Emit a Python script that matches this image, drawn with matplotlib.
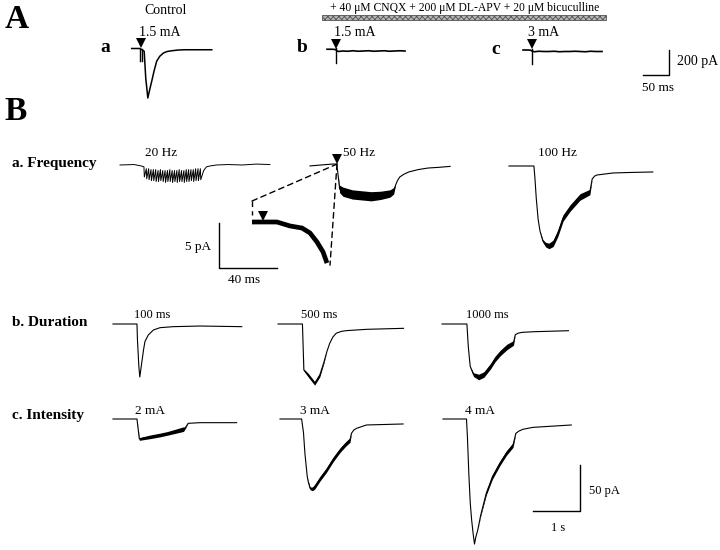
import matplotlib
matplotlib.use('Agg')
import matplotlib.pyplot as plt
from matplotlib.patches import Rectangle, ConnectionPatch
import numpy as np

plt.rcParams['font.family'] = ['Liberation Serif', 'DejaVu Serif']
plt.rcParams['hatch.linewidth'] = 0.6

W, H = 720, 550

# ---------------- Panel A data (time in ms, current in pA) ----------------
ctrl_t = [0, 16, 24, 27, 31, 34, 38.5, 43, 48, 54, 61, 68, 77, 90, 102, 154]
ctrl_i = [0, 0, -22, -236, -396, -340, -262, -180, -102, -62, -36, -24, -18, -12, -10, -10]
ctrl_stim = 18.8
b_t = [0, 10, 16, 19, 22, 30, 40, 50, 60, 70, 80, 90, 100, 110, 120, 130, 140, 150]
b_i = [6, 6, 4, -6, -12, -8, -10, -6, -10, -8, -6, -10, -8, -6, -10, -8, -6, -8]
b_stim = 17.3
c_t = [0, 10, 15, 18, 22, 30, 40, 50, 60, 70, 80, 90, 100, 110, 120, 130, 140, 152]
c_i = [4, 4, 2, -6, -10, -6, -8, -8, -6, -10, -8, -8, -6, -8, -10, -6, -8, -8]
c_stim = 16.7
artifact_span = [16, -104]       # pA, stimulus artifact extent
labels_A = ['Control', '1.5 mA', '1.5 mA', '3 mA']
drug_label = '+ 40 \u03bcM CNQX + 200 \u03bcM DL-APV + 20 \u03bcM bicuculline'

# ---------------- Panel B data (time in s, current in pA) ----------------
# a. Frequency
f20_pre_t = [0, 0.30, 0.45, 0.51]
f20_pre_i = [0, 0.5, -1, -2]
f20_onset, f20_rate = 0.51, 20
f20_crest = [-3, -4, -4, -5, -5, -5, -6, -5, -6, -6, -6, -5, -6,
             -6, -6, -5, -6, -6, -5, -5, -5, -5, -4, -4, -4]
f20_trough = [-13, -15, -16, -17, -17, -18, -18, -17, -18, -19, -18, -18, -19,
              -18, -19, -18, -18, -19, -18, -18, -17, -18, -17, -17, -16]
f20_post_t = [1.78, 1.84, 1.92, 2.05, 2.3, 2.6, 2.9, 3.19]
f20_post_i = [-6, -2, -1, 0, 0.5, 0, 1, 0.5]

f50_t = [0, 0.47, 0.57, 0.60, 0.63, 0.70, 0.90, 1.10, 1.30, 1.50, 1.70, 1.78,
         1.82, 1.86, 1.91, 2.00, 2.10, 2.30, 2.51, 2.75, 2.98]
f50_i = [-1, 1, 1, -12, -26, -29, -32, -33, -34, -33, -31, -28,
         -22, -17, -13, -10, -7.6, -5, -3.3, -2.5, -1.5]
f50_w = [0, 0, 0, 0, 4, 5, 5, 5, 5, 4.5, 4, 3.5, 0, 0, 0, 0, 0, 0, 0, 0, 0]
f50_stim = 0.574

f100_t = [0, 0.53, 0.55, 0.58, 0.62, 0.66, 0.72, 0.78, 0.85, 0.94, 1.04, 1.15,
          1.30, 1.51, 1.72, 1.77, 1.82, 1.87, 2.21, 2.6, 3.06]
f100_i = [0, 0, -12, -35, -58, -70.7, -81.5, -85.5, -86.9, -84, -73, -56.5,
          -45.7, -33.7, -28.3, -14.1, -11, -9.8, -7.6, -7, -6.5]
f100_w = [0, 0, 0, 0, 0, 0, 1.5, 2.5, 3, 3.5, 3.5, 3.5, 3.5, 3.5, 3, 0, 0, 0, 0, 0, 0]

# inset (ms, pA)
ins_t = [0, 17.2, 26.2, 34.5, 40, 44.8, 49, 51.7]
ins_i = [0, 0, -0.44, -0.67, -1.22, -2.22, -3.33, -4.56]
ins_stim = 7.6

# b. Duration
d100_t = [0, 0.51, 0.52, 0.55, 0.57, 0.61, 0.65, 0.68, 0.75, 0.86, 1.00, 1.28, 1.85, 2.74]
d100_i = [0, 0, -17, -46, -57.6, -42.7, -28, -19, -12, -6.5, -4, -2.9, -2.2, -2.9]
d500_t = [0, 0.52, 0.55, 0.64, 0.78, 0.89, 0.98, 1.04, 1.10, 1.17, 1.24, 1.35, 1.46, 1.88, 2.67]
d500_i = [0, 0, -50, -55.4, -64.5, -55.4, -41, -30, -21, -14, -10, -8, -7.2, -5.8, -4.7]
d500_w = [0, 0, 1, 2, 2, 2, 1, 0, 0, 0, 0, 0, 0, 0, 0]
d1000_t = [0, 0.53, 0.56, 0.60, 0.67, 0.78, 0.89, 1.03, 1.13, 1.24, 1.38, 1.52,
           1.56, 1.62, 1.70, 1.95, 2.69]
d1000_i = [0, 0, -25, -46, -55, -57.6, -55, -46, -38, -31.5, -25, -20.6,
           -11.6, -10, -9.1, -8.4, -7.3]
d1000_w = [0, 0, 0, 0, 2, 3, 3, 3, 3, 3, 3, 2.5, 0, 0, 0, 0, 0]

# c. Intensity
i2_t = [0, 0.51, 0.56, 0.81, 1.00, 1.16, 1.50, 1.53, 1.60, 1.85, 2.63]
i2_i = [0, 0, -21.7, -19.2, -17.4, -15.6, -11, -10.1, -4.7, -4, -4]
i2_w = [0, 0, 1.5, 2, 2, 2, 2.5, 1, 0, 0, 0]
i3_t = [0, 0.46, 0.50, 0.53, 0.58, 0.60, 0.64, 0.69, 0.74, 0.85, 0.99, 1.13, 1.28, 1.40,
        1.49, 1.52, 1.57, 1.63, 1.84, 2.62]
i3_i = [0, 0, -15, -37.3, -62.7, -68, -75.4, -76, -73.6, -65, -55.4, -44, -33.7, -27,
        -22.8, -15.6, -12, -10.1, -6.5, -5.4]
i3_w = [0, 0, 0, 0, 0, 1, 1.5, 2, 2.5, 2.5, 2.5, 2.5, 2.5, 2.5, 2.5, 0, 0, 0, 0, 0]
i4_t = [0, 0.50, 0.52, 0.55, 0.58, 0.61, 0.64, 0.67, 0.70, 0.74, 0.80, 0.92, 1.05, 1.21,
        1.35, 1.49, 1.55, 1.62, 1.70, 1.91, 2.73]
i4_i = [0, 0, -20, -60, -91.6, -110, -124.2, -135.9, -128, -120.7, -105, -80.8, -63, -48.2,
        -37, -28.3, -15.6, -13, -11.2, -9.1, -6.5]
i4_w = [0, 0, 0, 0, 0, 0, 0, 0, 0, 0, 1, 2, 2.5, 2.5, 2.5, 2.5, 0, 0, 0, 0, 0]

labels_freq = ['20 Hz', '50 Hz', '100 Hz']
labels_dur = ['100 ms', '500 ms', '1000 ms']
labels_int = ['2 mA', '3 mA', '4 mA']
row_labels = ['a. Frequency', 'b. Duration', 'c. Intensity']

# ---------------- figure ----------------
fig = plt.figure(figsize=(7.2, 5.5), dpi=100)
ann = fig.add_axes([0, 0, 1, 1])
ann.set_xlim(0, W)
ann.set_ylim(H, 0)
ann.axis('off')


def scaled_axes(x0, y0, sx, sy):
    """Full-figure axes whose data origin sits at pixel (x0, y0) with sx, sy px/unit."""
    ax = fig.add_axes([0, 0, 1, 1])
    ax.set_xlim(-x0 / sx, (W - x0) / sx)
    ax.set_ylim((y0 - H) / sy, y0 / sy)
    ax.axis('off')
    return ax


def draw(ax, t, i, w=None, lw=0.8):
    ax.plot(t, i, color='k', lw=lw, solid_joinstyle='round')
    if w is not None:
        ti, ii, wi = np.asarray(t), np.asarray(i), np.asarray(w)
        ax.fill_between(ti, ii - wi, ii + wi, color='k', lw=0)


def stim(ax, t, sy, off_px, ms=7):
    ax.plot([t], [off_px / sy], marker='v', color='k', ms=ms, mew=0)


sxA, syA = 26 / 50, 25 / 200
sxB, syB = 47, 0.92

# Panel A
axA1 = scaled_axes(131.7, 48.5, sxA, syA)
draw(axA1, ctrl_t, ctrl_i, lw=1.1)
axA1.plot([ctrl_stim - 2, ctrl_stim - 2], [0, -100], color='k', lw=1.0)
axA1.plot([ctrl_stim + 1.5, ctrl_stim + 1.5], [0, -100], color='k', lw=1.0)
stim(axA1, ctrl_stim, syA, 5.5)

axA2 = scaled_axes(327, 50, sxA, syA)
draw(axA2, b_t, b_i, lw=1.2)
axA2.plot([b_stim, b_stim], artifact_span, color='k', lw=1.0)
stim(axA2, b_stim, syA, 6.5)

axA3 = scaled_axes(523, 50.5, sxA, syA)
draw(axA3, c_t, c_i, lw=1.2)
axA3.plot([c_stim, c_stim], artifact_span, color='k', lw=1.0)
stim(axA3, c_stim, syA, 6.5)

# scale bar A
axAs = scaled_axes(669, 75, sxA, syA)
axAs.plot([-50, 0, 0], [0, 0, 200], color='k', lw=1.0)

# drug bar
ann.add_patch(Rectangle((322, 15), 284, 5, facecolor='#b4b4b4', edgecolor='#555555',
                        hatch='xxxxxx', lw=0.6))

# Panel B frequency
axF20 = scaled_axes(120, 165, sxB, syB)
osc_t, osc_i = [], []
for k, (cr, tr) in enumerate(zip(f20_crest, f20_trough)):
    tk = f20_onset + k / f20_rate
    osc_t += [tk, tk + 0.008]
    osc_i += [cr, tr]
axF20.plot(f20_pre_t + osc_t + f20_post_t, f20_pre_i + osc_i + f20_post_i, color='k', lw=0.7)

axF50 = scaled_axes(310, 165, sxB, syB)
draw(axF50, f50_t, f50_i, f50_w)
stim(axF50, f50_stim, syB, 6.5)

axF100 = scaled_axes(509, 166, sxB, syB)
draw(axF100, f100_t, f100_i, f100_w)

# inset
axIns = scaled_axes(252, 222, 58 / 40, 45 / 5)
axIns.plot(ins_t, ins_i, color='k', lw=3.4, solid_capstyle='butt')
stim(axIns, ins_stim, 45 / 5, 6.5)
dash = (0, (4, 3))
axIns.plot([0, 0], [2.33, 0.8], color='k', lw=1.0, linestyle=dash)
con1 = ConnectionPatch(xyA=(0, 2.33), coordsA=axIns.transData,
                       xyB=(f50_stim, 1.0), coordsB=axF50.transData,
                       color='k', lw=1.0, linestyle=dash)
con2 = ConnectionPatch(xyA=(f50_stim, 1.0), coordsA=axF50.transData,
                       xyB=(53.8, -4.8), coordsB=axIns.transData,
                       color='k', lw=1.0, linestyle=dash)
fig.add_artist(con1)
fig.add_artist(con2)
axInsS = scaled_axes(219, 268, 58 / 40, 45 / 5)
axInsS.plot([0, 0, 40], [5, 0, 0], color='k', lw=1.0)

# duration
axD1 = scaled_axes(113, 324, sxB, syB)
draw(axD1, d100_t, d100_i)
axD2 = scaled_axes(278, 324, sxB, syB)
draw(axD2, d500_t, d500_i, d500_w)
axD3 = scaled_axes(442, 324, sxB, syB)
draw(axD3, d1000_t, d1000_i, d1000_w)

# intensity
axI1 = scaled_axes(113, 419, sxB, syB)
draw(axI1, i2_t, i2_i, i2_w)
axI2 = scaled_axes(280, 419, sxB, syB)
draw(axI2, i3_t, i3_i, i3_w)
axI3 = scaled_axes(443, 419, sxB, syB)
draw(axI3, i4_t, i4_i, i4_w)

# scale bar B
axBs = scaled_axes(580, 511, sxB, syB)
axBs.plot([-1, 0, 0], [0, 0, 50], color='k', lw=1.0)

# ---------------- text ----------------
ann.text(16.5, 19, 'A', fontsize=24, fontweight='bold', ha='center', va='center')
ann.text(16, 112, 'B', fontsize=24, fontweight='bold', ha='center', va='center')
ann.text(105, 47, 'a', fontsize=14, fontweight='bold', ha='center', va='center')
ann.text(302, 47, 'b', fontsize=14, fontweight='bold', ha='center', va='center')
ann.text(495.5, 49, 'c', fontsize=14, fontweight='bold', ha='center', va='center')
ann.text(166, 11, labels_A[0], fontsize=10, ha='center', va='center')
ann.text(160, 33, labels_A[1], fontsize=10, ha='center', va='center')
ann.text(354.5, 33, labels_A[2], fontsize=10, ha='center', va='center')
ann.text(544, 33, labels_A[3], fontsize=10, ha='center', va='center')
ann.text(464.5, 8, drug_label, fontsize=8.4, ha='center', va='center')
ann.text(677, 62, '200 pA', fontsize=10, ha='left', va='center')
ann.text(658, 88, '50 ms', fontsize=9.5, ha='center', va='center')

for y, s in zip([163, 323, 416], row_labels):
    ann.text(12, y, s, fontsize=11, fontweight='bold', ha='left', va='center')
for x, s in zip([161.5, 359, 557.5], labels_freq):
    ann.text(x, 153, s, fontsize=9.5, ha='center', va='center')
for x, s in zip([152.5, 319, 487], labels_dur):
    ann.text(x, 315, s, fontsize=9, ha='center', va='center')
for x, s in zip([150, 315, 480], labels_int):
    ann.text(x, 411, s, fontsize=9.5, ha='center', va='center')
ann.text(211, 247, '5 pA', fontsize=9.5, ha='right', va='center')
ann.text(244, 280, '40 ms', fontsize=9.5, ha='center', va='center')
ann.text(589, 491, '50 pA', fontsize=9, ha='left', va='center')
ann.text(558, 528, '1 s', fontsize=9, ha='center', va='center')

fig.savefig('out.png', dpi=100, facecolor='white')
